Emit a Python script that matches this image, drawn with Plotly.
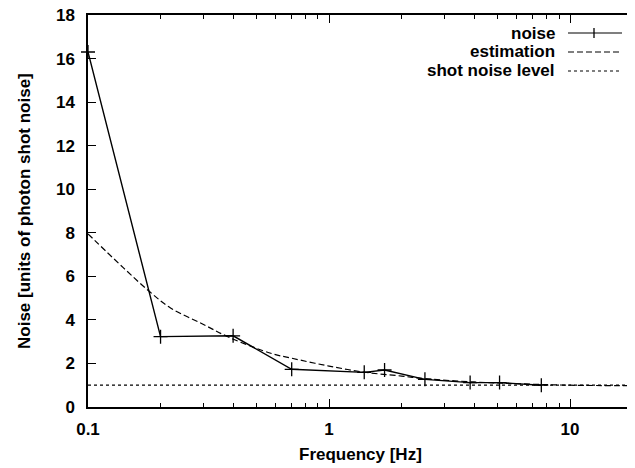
import plotly.graph_objects as go

# Measured noise
noise_freq = [0.1, 0.2, 0.4, 0.7, 1.4, 1.7, 2.5, 3.85, 5.1, 7.6]
noise_val = [16.3, 3.23, 3.27, 1.73, 1.59, 1.70, 1.27, 1.12, 1.12, 1.0]

# Estimation curve
est_freq = [0.1, 0.14, 0.18, 0.22, 0.3, 0.39, 0.58, 0.7, 1.0, 1.4, 2.0, 2.5, 4.0, 6.0, 10.0, 18.6]
est_val = [7.95, 6.4, 5.3, 4.55, 3.8, 3.17, 2.45, 2.24, 1.88, 1.6, 1.42, 1.3, 1.15, 1.07, 1.0, 0.98]

# Shot noise level
shot_freq = [0.1, 18.6]
shot_val = [1.0, 1.0]

series_names = ["noise", "estimation", "shot noise level"]
x_tick_vals = [0.1, 1, 10]
x_tick_text = ["0.1", "1", "10"]
y_tick_vals = [0, 2, 4, 6, 8, 10, 12, 14, 16, 18]
x_title = "Frequency [Hz]"
y_title = "Noise [units of photon shot noise]"

FONT = "Liberation Sans, Arial, sans-serif"
FS = 17

fig = go.Figure()
fig.add_trace(go.Scatter(x=noise_freq, y=noise_val, mode="lines+markers",
                         line=dict(color="black", width=1.4),
                         marker=dict(symbol="cross-thin", size=10,
                                     line=dict(color="black", width=1.3)),
                         name=series_names[0], showlegend=False, cliponaxis=False))
fig.add_trace(go.Scatter(x=est_freq, y=est_val, mode="lines",
                         line=dict(color="black", width=1.2, dash="6px,3px", shape="spline"),
                         name=series_names[1], showlegend=False))
fig.add_trace(go.Scatter(x=shot_freq, y=shot_val, mode="lines",
                         line=dict(color="black", width=1.2, dash="3px,3px"),
                         name=series_names[2], showlegend=False))

# The page body has an 8px margin: size the figure so it fills the window
OFF = 8
W, H = 635 - OFF, 468 - OFF
ml, mr, mt = 88 - OFF, 0, 15 - OFF
mb = H - mt - 392


def px_x(x):  # page pixel -> paper fraction
    return (x - OFF - ml) / (W - ml - mr)


def px_y(y):
    return 1 - (y - OFF - mt) / (H - mt - mb)


bold = dict(family=FONT, size=FS, color="black", weight="bold")

legend_rows = [33, 52, 71]
dashes = ["solid", "6px,3px", "3px,3px"]
annotations = []
shapes = []
for name, yy, dsh in zip(series_names, legend_rows, dashes):
    annotations.append(dict(x=px_x(557), y=px_y(yy), xref="paper", yref="paper",
                            text=name, showarrow=False, xanchor="right", yanchor="middle",
                            font=bold))
    shapes.append(dict(type="line", xref="paper", yref="paper",
                       x0=px_x(568), x1=px_x(622), y0=px_y(yy), y1=px_y(yy),
                       line=dict(color="black", width=1.2, dash=dsh)))
shapes.append(dict(type="line", xref="paper", yref="paper",
                   x0=px_x(594), x1=px_x(594), y0=px_y(28), y1=px_y(38),
                   line=dict(color="black", width=1.3)))

# Axis titles
annotations.append(dict(x=px_x(360), y=px_y(455), xref="paper", yref="paper",
                        text=x_title, showarrow=False, xanchor="center", yanchor="middle",
                        font=bold))
annotations.append(dict(x=px_x(24), y=px_y(211), xref="paper", yref="paper",
                        text=y_title, showarrow=False, xanchor="center", yanchor="middle",
                        textangle=-90, font=bold))

fig.update_layout(
    width=W, height=H,
    margin=dict(l=ml, r=mr, t=mt, b=mb, autoexpand=False),
    paper_bgcolor="white", plot_bgcolor="white",
    font=dict(family=FONT, size=FS, color="black"),
    annotations=annotations, shapes=shapes,
    showlegend=False,
)
fig.update_xaxes(
    type="log", range=[-1, 1.2695], automargin=False,
    tickvals=x_tick_vals, ticktext=x_tick_text,
    ticks="inside", ticklen=8, tickwidth=1, tickcolor="black",
    minor=dict(tickvals=[0.2, 0.3, 0.4, 0.5, 0.6, 0.7, 0.8, 0.9,
                         2, 3, 4, 5, 6, 7, 8, 9, 20],
               ticks="inside", ticklen=4, tickcolor="black", tickwidth=1),
    showline=True, linecolor="black", linewidth=1.5, mirror="allticks",
    showgrid=False, zeroline=False,
    tickfont=bold,
    ticklabelstandoff=6,
)
fig.update_yaxes(
    range=[0, 18.0001], tickvals=y_tick_vals, automargin=False,
    ticks="inside", ticklen=8, tickwidth=1, tickcolor="black",
    showline=True, linecolor="black", linewidth=1.5, mirror=False,
    showgrid=False, zeroline=False,
    tickfont=bold,
    ticklabelstandoff=8, ticklabeloverflow="allow",
)

fig.write_html("out.html")
